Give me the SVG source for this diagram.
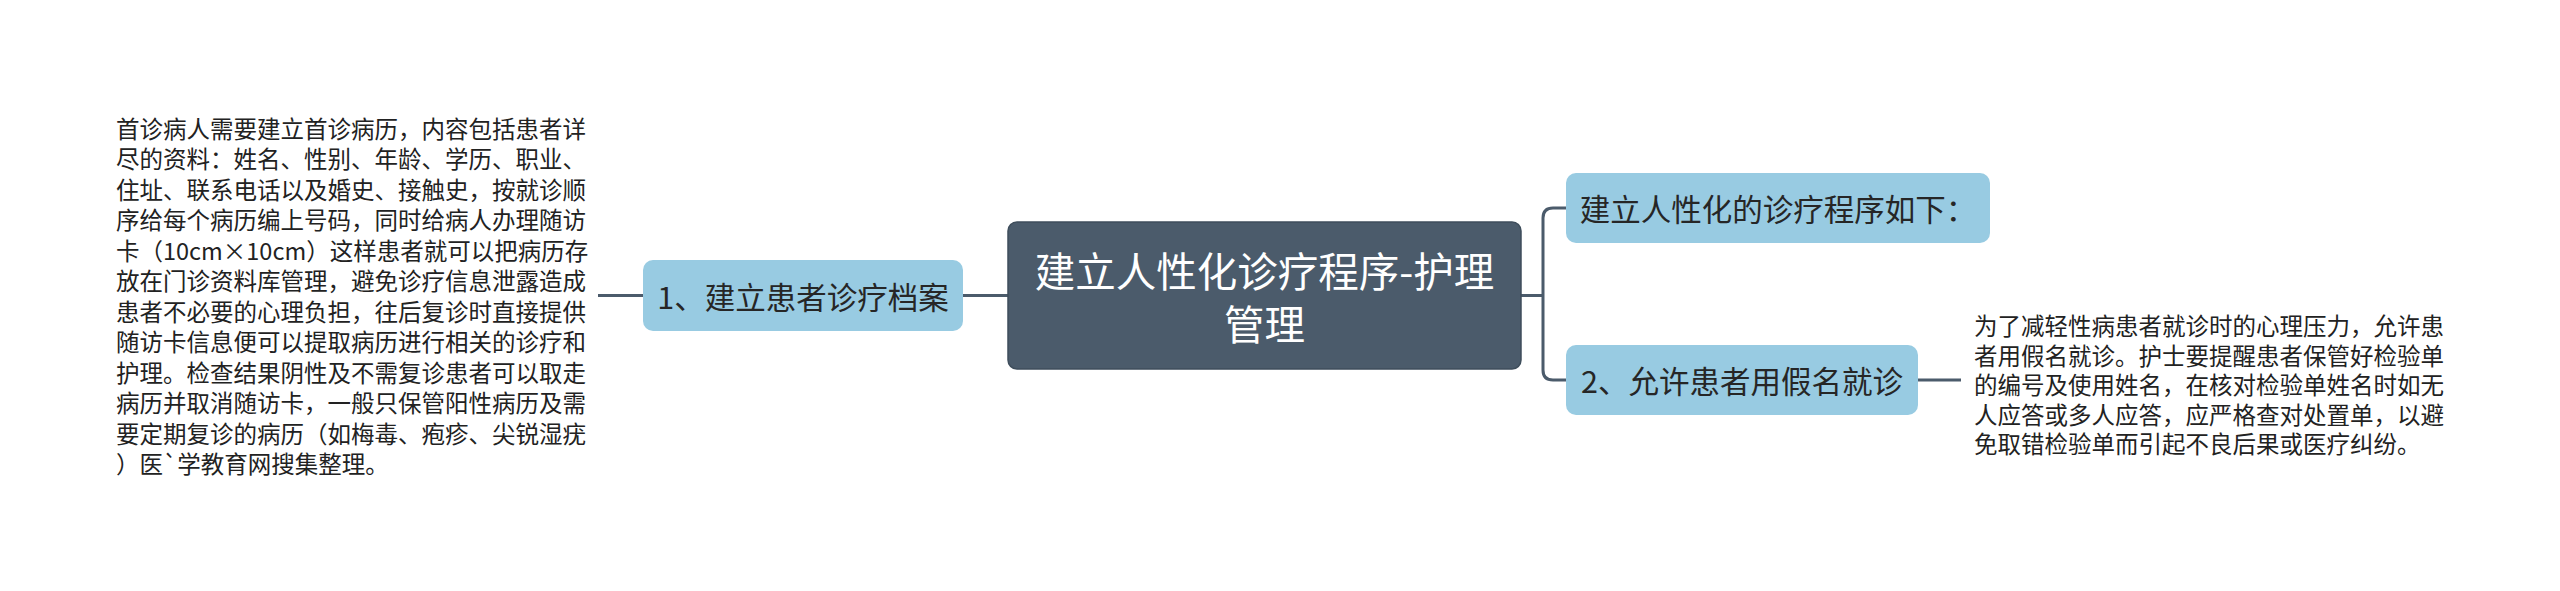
<svg xmlns="http://www.w3.org/2000/svg" width="2560" height="591" viewBox="0 0 2560 591">
<style>
  .conn { fill: none; stroke: #4b5b6b; stroke-width: 3; stroke-linecap: butt; }
  .central rect { fill: #4b5b6b; stroke: #3f4e5c; stroke-width: 1.5; }
  .central text { fill: #ffffff; font-family: "Noto Sans CJK SC", "Noto Sans", sans-serif; font-size: 40.5px; text-anchor: middle; dominant-baseline: central; }
  .topic rect { fill: #98cbe2; }
  .topic text { fill: #262626; font-family: "Noto Sans CJK SC", "Noto Sans", sans-serif; font-size: 30.5px; text-anchor: middle; dominant-baseline: central; }
  .leaf text { fill: #222222; font-family: "Noto Sans CJK SC", "Noto Sans", sans-serif; font-size: 23.5px; dominant-baseline: central; }
</style>
<rect width="2560" height="591" fill="#ffffff"/>
<g id="connectors">
  <path class="conn" d="M1008,295.5 H963"/>
  <path class="conn" d="M643,295.5 H598"/>
  <path class="conn" d="M1521,295.5 H1543"/>
  <path class="conn" d="M1566,208 H1553 Q1543,208 1543,218 V370 Q1543,380 1553,380 H1566"/>
  <path class="conn" d="M1918,380 H1961"/>
</g>
<g id="central" class="central">
  <rect x="1008" y="222" width="513" height="147" rx="9"/>
  <text><tspan x="1264.5" y="269">建立人性化诊疗程序-护理</tspan><tspan x="1264.5" y="322">管理</tspan></text>
</g>
<g id="node1" class="topic">
  <rect x="643" y="260" width="320" height="71" rx="10"/>
  <text x="803" y="295.5">1、建立患者诊疗档案</text>
</g>
<g id="node2" class="topic">
  <rect x="1566" y="173" width="424" height="70" rx="10"/>
  <text x="1778" y="208">建立人性化的诊疗程序如下：</text>
</g>
<g id="node3" class="topic">
  <rect x="1566" y="345" width="352" height="70" rx="10"/>
  <text x="1742" y="380">2、允许患者用假名就诊</text>
</g>
<g id="leaf1" class="leaf">
  <text>
    <tspan x="116" y="127.5">首诊病人需要建立首诊病历，内容包括患者详</tspan>
    <tspan x="116" y="158">尽的资料：姓名、性别、年龄、学历、职业、</tspan>
    <tspan x="116" y="188.5">住址、联系电话以及婚史、接触史，按就诊顺</tspan>
    <tspan x="116" y="219">序给每个病历编上号码，同时给病人办理随访</tspan>
    <tspan x="116" y="249.5">卡（10cm×10cm）这样患者就可以把病历存</tspan>
    <tspan x="116" y="280">放在门诊资料库管理，避免诊疗信息泄露造成</tspan>
    <tspan x="116" y="310.5">患者不必要的心理负担，往后复诊时直接提供</tspan>
    <tspan x="116" y="341">随访卡信息便可以提取病历进行相关的诊疗和</tspan>
    <tspan x="116" y="371.5">护理。检查结果阴性及不需复诊患者可以取走</tspan>
    <tspan x="116" y="402">病历并取消随访卡，一般只保管阳性病历及需</tspan>
    <tspan x="116" y="432.5">要定期复诊的病历（如梅毒、疱疹、尖锐湿疣</tspan>
    <tspan x="116" y="463">）医`学教育网搜集整理。</tspan>
  </text>
</g>
<g id="leaf2" class="leaf">
  <text>
    <tspan x="1974" y="325">为了减轻性病患者就诊时的心理压力，允许患</tspan>
    <tspan x="1974" y="354.5">者用假名就诊。护士要提醒患者保管好检验单</tspan>
    <tspan x="1974" y="384">的编号及使用姓名，在核对检验单姓名时如无</tspan>
    <tspan x="1974" y="413.5">人应答或多人应答，应严格查对处置单，以避</tspan>
    <tspan x="1974" y="443">免取错检验单而引起不良后果或医疗纠纷。</tspan>
  </text>
</g>
</svg>
